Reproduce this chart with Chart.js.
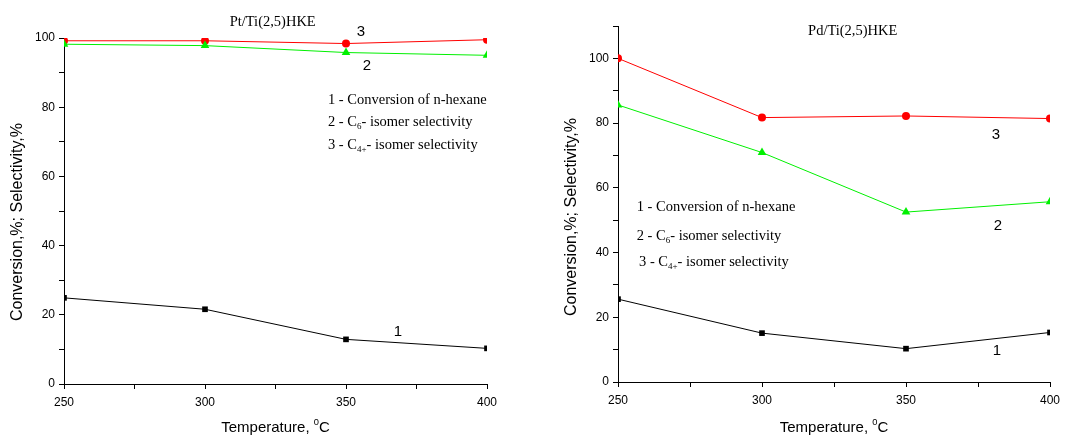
<!DOCTYPE html>
<html>
<head>
<meta charset="utf-8">
<script src="https://cdn.jsdelivr.net/npm/chart.js@4"></script>
<style>
  body { margin: 0; background: #fff; }
  #wrap { position: relative; width: 1067px; height: 437px; }
  .box { position: absolute; top: 0; height: 437px; }
</style>
</head>
<body>
<div id="wrap">
  <div class="box" style="left:0;width:530px"><canvas id="ptChart"></canvas></div>
  <div class="box" style="left:530px;width:537px"><canvas id="pdChart"></canvas></div>
</div>
<script>
// temperatures, C
const temps = [250, 300, 350, 400];

// Pt/Ti(2,5)HKE
const ptConversion = [24.9, 21.6, 12.9, 10.3];
const ptC6Sel = [98.2, 97.8, 95.8, 95.0];
const ptC4Sel = [99.2, 99.2, 98.4, 99.5];

// Pd/Ti(2,5)HKE
const pdConversion = [25.6, 15.1, 10.3, 15.3];
const pdC6Sel = [85.6, 70.9, 52.5, 55.7];
const pdC4Sel = [100, 81.7, 82.2, 81.4];

const xMajor = [250, 300, 350, 400];
const yMajor = [0, 20, 40, 60, 80, 100];

const serif = "'Liberation Serif', 'Times New Roman', serif";
const sans = "'Liberation Sans', Arial, sans-serif";

// draw text made of pieces, some sub or superscript
function richText(ctx, x, y, parts, size) {
  let cx = x;
  parts.forEach(p => {
    let s = size, dy = 0;
    if (p.sub) { s = size * 0.62; dy = size * 0.3; }
    if (p.sup) { s = size * 0.62; dy = -size * 0.4; }
    ctx.font = s + 'px ' + p.font;
    ctx.fillText(p.t, cx, y + dy);
    cx += ctx.measureText(p.t).width;
  });
  return cx - x;
}
function richWidth(ctx, parts, size) {
  let w = 0;
  parts.forEach(p => {
    const s = (p.sub || p.sup) ? size * 0.62 : size;
    ctx.font = s + 'px ' + p.font;
    w += ctx.measureText(p.t).width;
  });
  return w;
}

const legendLines = [
  [{t: '1 - Conversion of n-hexane', font: serif}],
  [{t: '2 - C', font: serif}, {t: '6', font: serif, sub: true}, {t: '- isomer selectivity', font: serif}],
  [{t: '3 - C', font: serif}, {t: '4+', font: serif, sub: true}, {t: '- isomer selectivity', font: serif}]
];

const notesPlugin = {
  id: 'notes',
  afterDraw(chart, args, opts) {
    const ctx = chart.ctx;
    const xs = chart.scales.x, ys = chart.scales.y;
    const px = v => xs.getPixelForValue(v), py = v => ys.getPixelForValue(v);
    ctx.save();
    ctx.fillStyle = '#000';
    ctx.textBaseline = 'middle';

    // title
    ctx.textAlign = 'center';
    ctx.font = '14.5px ' + serif;
    ctx.fillText(opts.title, px(opts.titleAt[0]), py(opts.titleAt[1]));

    // curve numbers
    ctx.font = '15px ' + sans;
    opts.numbers.forEach(n => ctx.fillText(n.t, px(n.x), py(n.y)));

    // legend text
    ctx.textAlign = 'left';
    opts.legend.forEach((l, i) => richText(ctx, px(l.x), py(l.y), legendLines[i], 14.5));

    // axis titles
    const xt = [{t: 'Temperature, ', font: sans}, {t: '0', font: sans, sup: true}, {t: 'C', font: sans}];
    const w = richWidth(ctx, xt, 15);
    richText(ctx, (xs.left + xs.right) / 2 - w / 2, 428, xt, 15);

    ctx.translate(opts.yTitleX, (ys.top + ys.bottom) / 2 + opts.yTitleDy);
    ctx.rotate(-Math.PI / 2);
    ctx.textAlign = 'center';
    ctx.font = '16px ' + sans;
    ctx.fillText('Conversion,%; Selectivity,%', 0, 0);
    ctx.restore();
  }
};

function makeChart(id, conv, c6, c4, yMax, pad, yWidth, xHeight, notes) {
  const series = (data, color, style, r) => ({
    data: temps.map((t, i) => ({x: t, y: data[i]})),
    borderColor: color,
    backgroundColor: color,
    borderWidth: 1,
    pointStyle: style,
    pointRadius: r,
    pointBorderWidth: 0,
    tension: 0
  });
  return new Chart(document.getElementById(id), {
    type: 'line',
    data: {
      datasets: [
        series(conv, '#000000', 'rect', 4),
        series(c6, '#00f000', 'triangle', 5),
        series(c4, '#ff0000', 'circle', 4)
      ]
    },
    options: {
      responsive: true,
      maintainAspectRatio: false,
      animation: false,
      events: [],
      layout: { padding: pad },
      plugins: { legend: { display: false }, tooltip: { enabled: false }, notes: notes },
      scales: {
        x: {
          type: 'linear', min: 250, max: 400,
          afterFit: s => { s.height = xHeight; },
          border: { color: '#000', width: 1 },
          grid: { drawOnChartArea: false, drawTicks: true, tickLength: 5, color: '#000' },
          ticks: {
            stepSize: 25, padding: 6, color: '#000', font: { family: sans, size: 12 },
            maxRotation: 0,
            callback: v => xMajor.includes(v) ? String(v) : ''
          }
        },
        y: {
          min: 0, max: yMax,
          afterFit: s => { s.width = yWidth; },
          border: { color: '#000', width: 1 },
          grid: { drawOnChartArea: false, drawTicks: true, tickLength: 5, color: '#000' },
          ticks: {
            stepSize: 10, padding: 4, color: '#000', font: { family: sans, size: 12 },
            callback: v => yMajor.includes(v) ? String(v) : ''
          }
        }
      }
    },
    plugins: [notesPlugin]
  });
}

makeChart('ptChart', ptConversion, ptC6Sel, ptC4Sel, 100,
  { left: 0, right: 43, top: 38, bottom: 0 }, 64, 53,
  {
    title: 'Pt/Ti(2,5)HKE', titleAt: [324, 104.6],
    numbers: [ {t: '3', x: 355.3, y: 101.7}, {t: '2', x: 357.4, y: 91.9}, {t: '1', x: 368.4, y: 15.0} ],
    legend: [ {x: 343.6, y: 82.1}, {x: 343.6, y: 75.7}, {x: 343.6, y: 69.1} ],
    yTitleX: 18, yTitleDy: 11
  });

makeChart('pdChart', pdConversion, pdC6Sel, pdC4Sel, 110,
  { left: 0, right: 17, top: 26, bottom: 0 }, 88, 55,
  {
    title: 'Pd/Ti(2,5)HKE', titleAt: [331.5, 108.3],
    numbers: [ {t: '3', x: 381.2, y: 76.4}, {t: '2', x: 381.9, y: 48.2}, {t: '1', x: 381.6, y: 9.5} ],
    legend: [ {x: 256.5, y: 54.0}, {x: 256.5, y: 45.0}, {x: 257.3, y: 37.0} ],
    yTitleX: 42, yTitleDy: 13
  });
</script>
</body>
</html>
